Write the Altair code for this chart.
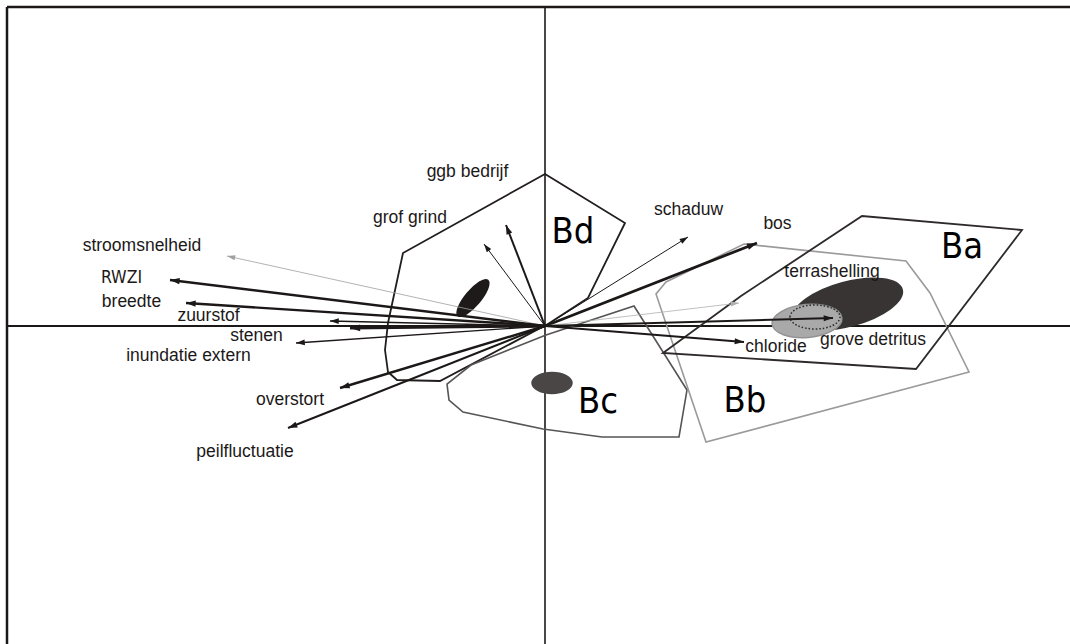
import math
import altair as alt
import pandas as pd

# ---- environmental variables (biplot arrows), ordination units ----
VAR_NAMES = ["stroomsnelheid", "RWZI", "breedte", "zuurstof", "stenen",
             "inundatie extern", "overstort", "peilfluctuatie", "grof grind",
             "ggb bedrijf", "schaduw", "bos", "terrashelling",
             "grove detritus", "chloride"]
VAR_X = [-3.18, -3.75, -3.59, -2.15, -1.95, -2.49, -2.05, -2.57, -0.61,
         -0.39, 1.43, 2.12, 1.94, 2.88, 1.99]
VAR_Y = [0.70, 0.46, 0.23, 0.05, -0.02, -0.17, -0.62, -1.02, 0.82,
         1.01, 0.89, 0.83, 0.23, 0.08, -0.16]
LABEL_X = [-4.03, -4.235, -4.135, -3.365, -2.885, -3.565, -2.55, -3.00, -1.35,
           -0.775, 1.435, 2.325, 2.87, 3.28, 2.31]
LABEL_Y = [0.80, 0.48, 0.24, 0.10, -0.10, -0.30, -0.74, -1.26, 1.08,
           1.54, 1.16, 1.02, 0.54, -0.14, -0.21]

# line weight / colour of each arrow
ARROW_WIDTHS = [0.8, 2.4, 2.4, 1.4, 3.0, 1.4, 2.4, 2.0, 1.0,
                2.0, 1.0, 2.8, 0.8, 2.0, 2.0]
ARROW_COLORS = ["#a0a0a0", "#1c1818", "#1c1818", "#1c1818", "#1c1818",
                "#1c1818", "#1c1818", "#1c1818", "#1c1818", "#1c1818",
                "#1c1818", "#1c1818", "#b0b0b0", "#1c1818", "#1c1818"]

# ---- site groups: convex hulls ----
GROUPS = ["Bd", "Bc", "Bb", "Ba"]
BD_X = [0.00, 0.80, 0.43, 0.03, -1.05, -1.48, -1.57, -1.60, -1.57, -1.42]
BD_Y = [1.52, 1.03, 0.28, 0.02, -0.55, -0.54, -0.46, -0.24, 0.03, 0.73]
BC_X = [0.89, 1.42, 1.34, 0.57, -0.02, -0.82, -0.96, -0.98, -0.74, 0.01]
BC_Y = [0.20, -0.64, -1.11, -1.11, -1.03, -0.86, -0.74, -0.58, -0.39, -0.09]
BB_X = [1.99, 3.61, 3.85, 4.24, 1.61, 1.11, 1.21]
BB_Y = [0.82, 0.65, 0.33, -0.46, -1.16, 0.32, 0.44]
BA_X = [1.18, 1.96, 3.17, 4.77, 3.71]
BA_Y = [-0.27, 0.30, 1.10, 0.96, -0.43]
HULL_COLORS = ["#221e1e", "#575454", "#9a9a9a", "#2e2a2a"]
HULL_WIDTHS = [1.8, 1.6, 1.6, 1.8]

# group names and their positions
GROUP_LABEL_X = [0.28, 0.53, 2.00, 4.17]
GROUP_LABEL_Y = [0.94, -0.76, -0.75, 0.79]

# ---- group centroid ellipses ----
ELL_X = [-0.72, 0.07, 3.03, 2.62, 2.70]
ELL_Y = [0.28, -0.57, 0.22, 0.05, 0.09]
# semi-axes (px), rotation, fill, stroke, dash
ELL_STYLE = [
    (23, 7.5, 310, "#1e1a1a", "#1e1a1a", None),
    (20, 10.5, 0, "#4a4646", "#4a4646", None),
    (56, 22, 345, "#383434", "#383434", None),
    (35, 16.5, 355, "#a9a9a9", "#939393", None),
    (25, 12, 0, None, "#2a2a2a", [1.5, 2]),
]

W, H = 1063, 637
XS = alt.Scale(domain=[-5.38, 5.25], nice=False, zero=False)
YS = alt.Scale(domain=[-3.18, 3.19], nice=False, zero=False)
INK = "#1c1818"
NARROW = "Liberation Sans Narrow, DejaVu Sans Condensed, Liberation Sans"


def ellipse_path(ratio):
    k = 0.5523
    r = ratio
    return (f"M-1,0 C-1,{-k*r:.4f} {-k},{-r:.4f} 0,{-r:.4f} "
            f"C{k},{-r:.4f} 1,{-k*r:.4f} 1,0 "
            f"C1,{k*r:.4f} {k},{r:.4f} 0,{r:.4f} "
            f"C{-k},{r:.4f} -1,{k*r:.4f} -1,0 Z")


layers = []

# frame (top and left edges)
layers.append(alt.Chart(pd.DataFrame({"a": [0]})).mark_rule(color=INK, strokeWidth=2.5).encode(
    x=alt.value(0), x2=alt.value(W), y=alt.value(0)))
layers.append(alt.Chart(pd.DataFrame({"a": [0]})).mark_rule(color=INK, strokeWidth=2.5).encode(
    x=alt.value(0), y=alt.value(0), y2=alt.value(H)))

# ordination axes through the origin
layers.append(alt.Chart(pd.DataFrame({"y": [0.0]})).mark_rule(color=INK, strokeWidth=2).encode(
    y=alt.Y("y:Q", scale=YS, axis=None), x=alt.value(0), x2=alt.value(W)))
layers.append(alt.Chart(pd.DataFrame({"x": [0.0]})).mark_rule(color=INK, strokeWidth=1.6).encode(
    x=alt.X("x:Q", scale=XS, axis=None), y=alt.value(0), y2=alt.value(H)))

# hulls
hull_xy = {"Bd": (BD_X, BD_Y), "Bc": (BC_X, BC_Y), "Bb": (BB_X, BB_Y), "Ba": (BA_X, BA_Y)}
for g, col, w in zip(GROUPS, HULL_COLORS, HULL_WIDTHS):
    xs, ys = hull_xy[g]
    df = pd.DataFrame({"x": xs, "y": ys, "o": list(range(len(xs)))})
    layers.append(alt.Chart(df).mark_line(interpolate="linear-closed", color=col, strokeWidth=w).encode(
        x=alt.X("x:Q", scale=XS, axis=None),
        y=alt.Y("y:Q", scale=YS, axis=None),
        order="o:Q"))

# ellipses
for cx, cy, (a, b, ang, fill, stroke, dash) in zip(ELL_X, ELL_Y, ELL_STYLE):
    props = dict(shape=ellipse_path(b / a), size=4 * a * a, angle=ang,
                 opacity=1, stroke=stroke, strokeWidth=1.5)
    if fill is None:
        props.update(filled=False, fill="transparent")
    else:
        props.update(filled=True, fill=fill)
    if dash is not None:
        props["strokeDash"] = dash
    layers.append(alt.Chart(pd.DataFrame({"x": [cx], "y": [cy]})).mark_point(**props).encode(
        x=alt.X("x:Q", scale=XS, axis=None),
        y=alt.Y("y:Q", scale=YS, axis=None)))

# arrows
arrows = pd.DataFrame({
    "name": VAR_NAMES, "x": VAR_X, "y": VAR_Y,
    "x0": [0.0] * len(VAR_X), "y0": [0.0] * len(VAR_X),
    "w": ARROW_WIDTHS, "c": ARROW_COLORS,
})
arrows["ang"] = [(math.degrees(math.atan2(dx, dy)) + 360) % 360 for dx, dy in zip(VAR_X, VAR_Y)]
arrows["hs"] = [60 + 18 * w for w in ARROW_WIDTHS]

layers.append(alt.Chart(arrows).mark_rule().encode(
    x=alt.X("x0:Q", scale=XS, axis=None), y=alt.Y("y0:Q", scale=YS, axis=None),
    x2="x:Q", y2="y:Q",
    strokeWidth=alt.StrokeWidth("w:Q", scale=None, legend=None),
    color=alt.Color("c:N", scale=None, legend=None)))

HEAD = "M0,0 L0.62,1.9 L-0.62,1.9 Z"
layers.append(alt.Chart(arrows).mark_point(shape=HEAD, filled=True, opacity=1, strokeWidth=0).encode(
    x=alt.X("x:Q", scale=XS, axis=None), y=alt.Y("y:Q", scale=YS, axis=None),
    angle=alt.Angle("ang:Q", scale=None),
    size=alt.Size("hs:Q", scale=None, legend=None),
    color=alt.Color("c:N", scale=None, legend=None)))

# variable labels
labels = pd.DataFrame({"name": VAR_NAMES, "x": LABEL_X, "y": LABEL_Y})
regular = labels[labels["name"] != "RWZI"]
narrow = labels[labels["name"] == "RWZI"]
layers.append(alt.Chart(regular).mark_text(font="Liberation Sans", fontSize=17.5, color=INK,
                                            align="center", baseline="middle").encode(
    x=alt.X("x:Q", scale=XS, axis=None), y=alt.Y("y:Q", scale=YS, axis=None),
    text="name:N"))
layers.append(alt.Chart(narrow).mark_text(font=NARROW, fontSize=17.5, color=INK,
                                           align="center", baseline="middle").encode(
    x=alt.X("x:Q", scale=XS, axis=None), y=alt.Y("y:Q", scale=YS, axis=None),
    text="name:N"))

# group labels
glabels = pd.DataFrame({"g": GROUPS, "x": GROUP_LABEL_X, "y": GROUP_LABEL_Y})
layers.append(alt.Chart(glabels).mark_text(font=NARROW, fontSize=36, color="#000000",
                                            align="center", baseline="middle").encode(
    x=alt.X("x:Q", scale=XS, axis=None), y=alt.Y("y:Q", scale=YS, axis=None),
    text="g:N"))

chart = alt.layer(*layers).properties(
    width=W, height=H,
    autosize=alt.AutoSizeParams(type="none"),
    padding={"left": 7, "top": 7, "right": 0, "bottom": 0},
    background="white",
).configure_view(strokeWidth=0)

chart.save("out.html", embed_options={"renderer": "svg", "actions": False})
